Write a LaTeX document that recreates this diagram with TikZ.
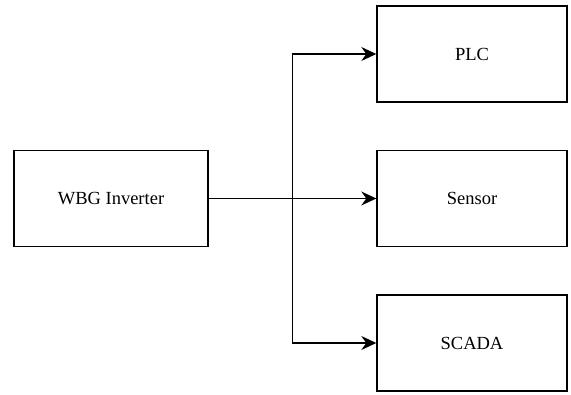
\documentclass[tikz,border=0pt]{standalone}
\usepackage{fontspec}
\setmainfont{Liberation Serif}
\usetikzlibrary{arrows.meta}
\begin{document}
\begin{tikzpicture}[x=1pt,y=-1pt,
  blk/.style={draw=black,line width=1.4pt,fill=white,minimum width=190pt,minimum height=96pt,inner sep=0pt,font=\fontsize{18.5}{22}\selectfont},
  conn/.style={line width=1.5pt,-{Stealth[length=15pt,width=14pt,inset=5pt]}}]
\useasboundingbox (0,0) rectangle (571,395);
\node[blk,minimum width=194pt] (inv) at (111,198.5) {WBG Inverter};
\node[blk] (plc) at (472,54) {PLC};
\node[blk] (sen) at (472,198.5) {Sensor};
\node[blk] (sca) at (472,343) {SCADA};
\coordinate (j) at (292.5,198.5);
\draw[conn] (inv.east) -- (sen.west);
\draw[conn] (j) |- (plc.west);
\draw[conn] (j) |- (sca.west);
\end{tikzpicture}
\end{document}
